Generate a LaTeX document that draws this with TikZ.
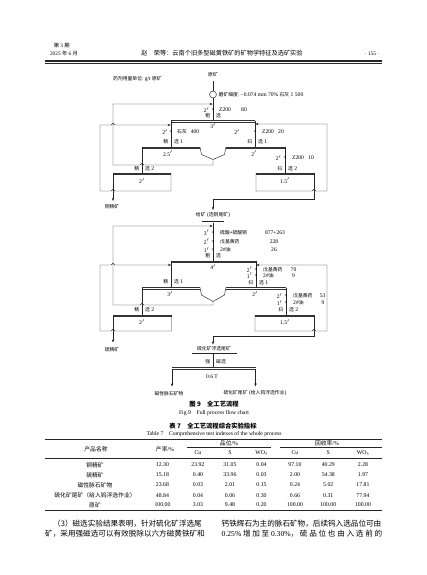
\documentclass[tikz,border=0pt]{standalone}
\usepackage{fontspec}
\setmainfont{Liberation Serif}
\newfontfamily\cjk{Noto Sans CJK SC}
\newfontfamily\cjks[Scale=0.86]{Noto Sans CJK SC}
\usetikzlibrary{arrows.meta}
\newcommand\zh[1]{{\cjk #1}}
\newcommand\zs[1]{{\cjks #1}}
\newcommand\fsz[1]{\fontsize{#1}{#1}\selectfont}
\newcommand\pr{$'$}
\begin{document}
\begin{tikzpicture}[x=1pt,y=-1pt,
  ln/.style={line width=0.45pt, draw=black!85},
  bar/.style={line width=1pt, draw=black!80, postaction={draw=black!80, line width=0.35pt, transform canvas={yshift=-1.5pt}}},
  dbl/.style={double, double distance=0.8pt, line width=0.4pt, draw=black!85},
  arr/.style={ln,-{Stealth[length=3.2pt,width=2.4pt]}},
  t/.style={inner sep=0pt, font=\fsz{5.6}},
  te/.style={t, anchor=east},
  tw/.style={t, anchor=west},
  mill/.style={draw=black!85, line width=0.45pt, circle, minimum size=7pt, inner sep=0pt},
  tb/.style={inner sep=0pt, font=\fsz{5.8}},
  figcap/.style={inner sep=0pt, font=\fsz{6.3}\bfseries},
  ecap/.style={inner sep=0pt, font=\fsz{5.7}},
  body/.style={inner sep=0pt, anchor=west, font=\fsz{7.6}},
  hd/.style={inner sep=0pt, font=\fsz{5.3}}]
\fill[white] (0,0) rectangle (427,575);
\useasboundingbox (0,0) rectangle (427,575);

% ---------- page header ----------
\node[hd] (h1) at (61.7,45.8) {\zh{第} 3 \zh{期}};
\node[hd] (h2) at (64,53.3) {2025 \zh{年} 6 \zh{月}};
\node[inner sep=0pt, font=\fsz{6.2}] (h3) at (222,53.3) {\zh{赵\quad 荣等：云南个旧多型磁黄铁矿的矿物学特征及选矿实验}};
\node[hd] (h4) at (372,53.3) {· 155 ·};
\draw[line width=1.1pt, black!85] (45,61) -- (382,61);
\draw[line width=0.35pt, black!85] (45,63.3) -- (382,63.3);

% ---------- copper circuit ----------
\node[t] (unit) at (137.5,79) {\zs{药剂用量单位: }g/t \zs{原矿}};
\node[t] (feed) at (213,75) {\zs{原矿}};
\draw[dbl] (200,80.5) -- (226,80.5);
\node[mill] (mill) at (213,94.5) {};
\draw[ln] (213,81) -- (mill);
\draw[ln] (mill) -- (213,121);
\node[tw] (grind) at (218.5,94.5) {\zs{磨矿细度: }−0.074 mm 70\% \zs{石灰} 1 500};

\node[te] (ra1) at (209.5,110) {2\pr};
\node[t] (rx1) at (213,110) {×};
\node[tw] (rb1) at (219,110) {Z200};
\node[t] (rc1) at (244,110) {80};
\node[te] (oa1) at (210.5,116) {\zs{粗}};
\node[tw] (ob1) at (216,116) {\zs{选}};
\draw[bar] (171,121) -- (255,121);
\node[t] (m1) at (213,126) {3\pr};

\draw[ln] (171,121) -- (171,147);
\node[te] (ra2) at (168,132) {2\pr};
\node[t] (rx2) at (171,132) {×};
\node[tw] (rb2) at (177,132) {\zs{石灰}};
\node[t] (rc2) at (195,132) {400};
\node[te] (oa2) at (168.5,142) {\zs{精}};
\node[tw] (ob2) at (174,142) {\zs{选} 1};
\draw[bar] (142,147) -- (200,147);
\node[t] (m2) at (168,153.8) {2.5\pr};
\draw[ln] (200,147) -- (201.5,154.5) -- (213,159.5) -- (224.5,154.5) -- (226,147);
\draw[bar] (226,147) -- (285,147);
\node[t] (m3) at (254,153.8) {2\pr};

\draw[ln] (255,121) -- (255,147);
\node[t] (ra3) at (237,132) {2\pr};
\node[t] (rx3) at (255,132) {×};
\node[tw] (rb3) at (262,132) {Z200};
\node[t] (rc3) at (281,132) {20};
\node[te] (oa3) at (252.5,142) {\zs{扫}};
\node[tw] (ob3) at (258,142) {\zs{选} 1};

\draw[ln] (285,147) -- (285,173);
\node[te] (ra4) at (281.5,158) {2\pr};
\node[t] (rx4) at (285,158) {×};
\node[tw] (rb4) at (292,158) {Z200};
\node[t] (rc4) at (311,158) {10};
\node[te] (oa4) at (282.5,168.5) {\zs{扫}};
\node[tw] (ob4) at (288,168.5) {\zs{选} 2};
\draw[bar] (256,173) -- (314,173);
\node[t] (m4) at (285,180.5) {1.5\pr};
\draw[arr] (256,173) -- (256,191) -- (312.2,191) .. controls (312.2,188.6) and (315.8,188.6) .. (315.8,191) -- (327,191) -- (327,124) -- (255.3,124);
\draw[arr] (314,173) -- (314,199.5) -- (213,199.5) -- (213,210);

\draw[ln] (142,147) -- (142,173);
\draw[arr] (213,159.5) -- (213,165) -- (143.8,165) .. controls (143.8,162.6) and (140.2,162.6) .. (140.2,165) -- (113,165) -- (113,104) -- (212.7,104);
\node[te] (oa5) at (139.5,168.5) {\zs{精}};
\node[tw] (ob5) at (145,168.5) {\zs{选} 2};
\draw[bar] (113,173) -- (171,173);
\node[t] (m5) at (142,181) {2\pr};
\draw[arr] (113,173) -- (113,201);
\draw[arr] (171,173) -- (171,191) -- (114.8,191) .. controls (114.8,188.6) and (111.2,188.6) .. (111.2,191) -- (100,191) -- (100,125) -- (111.2,125) .. controls (111.2,122.6) and (114.8,122.6) .. (114.8,125) -- (170.7,125);
\node[t] (cuc) at (112,206.5) {\zs{铜精矿}};

% ---------- sulphur circuit ----------
\node[t] (feed2) at (213,215.5) {\zs{给矿} (\zs{选铜尾矿})};
\draw[dbl] (202,222) -- (224,222);
\draw[ln] (213,222.5) -- (213,261);
\node[te] (sa1) at (209.5,232.5) {3\pr};
\node[t] (sx1) at (213,232.5) {×};
\node[tw] (sb1) at (220,232.5) {\zs{硫酸+硫酸铜}};
\node[t] (sc1) at (275,232.5) {877+263};
\node[te] (sa2) at (209.5,241.5) {2\pr};
\node[t] (sx2) at (213,241.5) {×};
\node[tw] (sb2) at (220,241.5) {\zs{戊基黄药}};
\node[t] (sc2) at (274,241.5) {228};
\node[te] (sa3) at (209.5,250) {1\pr};
\node[t] (sx3) at (213,250) {×};
\node[tw] (sb3) at (220,250) {2\#\zs{油}};
\node[t] (sc3) at (274,250) {26};
\node[te] (so1) at (210.5,255.7) {\zs{粗}};
\node[tw] (so2) at (216,255.7) {\zs{选}};
\draw[bar] (171,261) -- (256,261);
\node[t] (n1) at (213,267) {4\pr};

\draw[ln] (171,261) -- (171,287.5);
\node[te] (so3) at (168.5,281.5) {\zs{精}};
\node[tw] (so4) at (174,281.5) {\zs{选} 1};
\draw[bar] (142,287.5) -- (200,287.5);
\node[t] (n2) at (170,294) {3\pr};
\draw[ln] (200,287.5) -- (201.5,295) -- (213,301.5) -- (224.5,295) -- (226,287.5);
\draw[bar] (226,287.5) -- (286,287.5);
\node[t] (n3) at (255,294) {2\pr};

\draw[ln] (256,261) -- (256,287.5);
\node[te] (sa4) at (252.5,269.5) {2\pr};
\node[t] (sx4) at (256,269.5) {×};
\node[tw] (sb4) at (263,269.5) {\zs{戊基黄药}};
\node[t] (sc4) at (293.5,269.5) {70};
\node[te] (sa5) at (252.5,275.7) {1\pr};
\node[t] (sx5) at (256,275.7) {×};
\node[tw] (sb5) at (263,275.7) {2\#\zs{油}};
\node[t] (sc5) at (293.5,275.7) {9};
\node[te] (so5) at (253.5,282.5) {\zs{扫}};
\node[tw] (so6) at (259,282.5) {\zs{选} 1};

\draw[ln] (286,287.5) -- (286,315);
\node[te] (sa6) at (282.5,296) {2\pr};
\node[t] (sx6) at (286,296) {×};
\node[tw] (sb6) at (293,296) {\zs{戊基黄药}};
\node[t] (sc6) at (322.7,296) {53};
\node[te] (sa7) at (282.5,303) {1\pr};
\node[t] (sx7) at (286,303) {×};
\node[tw] (sb7) at (293,303) {2\#\zs{油}};
\node[t] (sc7) at (323,303) {9};
\node[te] (so7) at (283.5,310) {\zs{扫}};
\node[tw] (so8) at (289,310) {\zs{选} 2};
\draw[bar] (255,315) -- (314,315);
\node[t] (n4) at (285,322) {1.5\pr};
\draw[arr] (255,315) -- (255,331) -- (312.2,331) .. controls (312.2,328.6) and (315.8,328.6) .. (315.8,331) -- (327,331) -- (327,265) -- (256.3,265);
\draw[arr] (314,315) -- (314,336.5) -- (213,336.5) -- (213,344.5);

\draw[ln] (142,287.5) -- (142,315);
\draw[arr] (213,301.5) -- (213,305) -- (143.8,305) .. controls (143.8,302.6) and (140.2,302.6) .. (140.2,305) -- (113,305) -- (113,226) -- (212.7,226);
\node[te] (so9) at (139.5,309.3) {\zs{精}};
\node[tw] (so10) at (145,309.3) {\zs{选} 2};
\draw[bar] (113,315) -- (171.5,315);
\node[t] (n5) at (142,322) {2\pr};
\draw[arr] (113,315) -- (113,342.5);
\draw[arr] (171.5,315) -- (171.5,331) -- (114.8,331) .. controls (114.8,328.6) and (111.2,328.6) .. (111.2,331) -- (100,331) -- (100,265) -- (111.2,265) .. controls (111.2,262.6) and (114.8,262.6) .. (114.8,265) -- (171.2,265);
\node[t] (sc) at (112,349.5) {\zs{硫精矿}};

% ---------- magnetic separation ----------
\node[t] (ft) at (214,348.8) {\zs{硫化矿浮选尾矿}};
\draw[ln] (192,353.5) -- (237,353.5);
\draw[ln] (213,353.5) -- (213,367.5);
\node[te] (mg1) at (210.5,361.5) {\zs{强}};
\node[tw] (mg2) at (216,361.5) {\zs{磁选}};
\draw[bar] (172,367.5) -- (255.5,367.5);
\node[t] (mg3) at (212,376.3) {0.6 T};
\draw[arr] (172,368.5) -- (172,386.5);
\draw[arr] (255.5,368.5) -- (255.5,386.5);
\node[t] (p1) at (169,393.5) {\zs{磁性脉石矿物}};
\node[t] (p2) at (255,393.5) {\zs{硫化矿尾矿} (\zs{给入钨浮选作业})};

% ---------- captions ----------
\node[figcap] (c1) at (214,404) {\zh{\bfseries 图 9\quad 全工艺流程}};
\node[ecap] (c2) at (214,412.7) {Fig.9\quad Full process flow chart};
\node[figcap] (c3) at (213,426) {\zh{\bfseries 表 7\quad 全工艺流程综合实验指标}};
\node[ecap] (c4) at (214,434.3) {Table 7\quad Comprehensive test indexes of the whole process};

% ---------- table ----------
\draw[line width=0.8pt, black!85] (45,439.3) -- (382,439.3);
\draw[line width=0.4pt, black!85] (187,447.3) -- (271,447.3);
\draw[line width=0.4pt, black!85] (280,447.3) -- (382,447.3);
\draw[line width=0.4pt, black!85] (45,458.3) -- (382,458.3);
\draw[line width=0.8pt, black!85] (45,510) -- (382,510);
\node[tb] (th1) at (96,449.3) {\zh{产品名称}};
\node[tb] (th2) at (165,449.3) {\zh{产率}/\%};
\node[tb] (th3) at (229,443.5) {\zh{品位}/\%};
\node[tb] (th4) at (327,443.5) {\zh{回收率}/\%};
\foreach \x/\s [count=\i] in {198/Cu,230/S,261.5/{WO\textsubscript{3}},295/Cu,328.3/S,363/{WO\textsubscript{3}}}
  \node[tb] (sh\i) at (\x,452.8) {\s};
\foreach \y/\n/\a/\b/\c/\d/\e/\f/\g [count=\r] in {
  465/铜精矿/12.30/23.92/31.05/0.04/97.10/40.29/2.28,
  475/硫精矿/15.18/0.40/33.96/0.03/2.00/54.38/1.97,
  485/磁性脉石矿物/23.68/0.03/2.01/0.15/0.24/5.02/17.81,
  495.3/硫化矿尾矿（给入钨浮选作业）/48.84/0.04/0.06/0.30/0.66/0.31/77.94,
  505/原矿/100.00/3.03/9.48/0.20/100.00/100.00/100.00}{
  \node[tb] (rn\r) at (95,\y) {\zh{\n}};
  \node[tb] (ra\r) at (162.5,\y) {\a};
  \node[tb] (rb\r) at (198,\y) {\b};
  \node[tb] (rc\r) at (230,\y) {\c};
  \node[tb] (rd\r) at (261.5,\y) {\d};
  \node[tb] (re\r) at (295,\y) {\e};
  \node[tb] (rf\r) at (328.3,\y) {\f};
  \node[tb] (rg\r) at (363,\y) {\g};
}

% ---------- body text ----------
\node[body] (b1) at (53,523.3) {\zh{（3）磁选实验结果表明，针对硫化矿浮选尾}};
\node[body] (b2) at (45,533.3) {\zh{矿，采用强磁选可以有效脱除以六方磁黄铁矿和}};
\node[body] (b3) at (221.5,523.3) {\zh{钙铁辉石为主的脉石矿物，后续钨入选品位可由}};
\node[body] (b4) at (221.5,533.3) {\makebox[160.5pt][s]{0.25\% \zh{增} \zh{加} \zh{至} 0.30\%\zh{，} \zh{硫} \zh{品} \zh{位} \zh{也} \zh{由} \zh{入} \zh{选} \zh{前} \zh{的}}};
\end{tikzpicture}
\end{document}
